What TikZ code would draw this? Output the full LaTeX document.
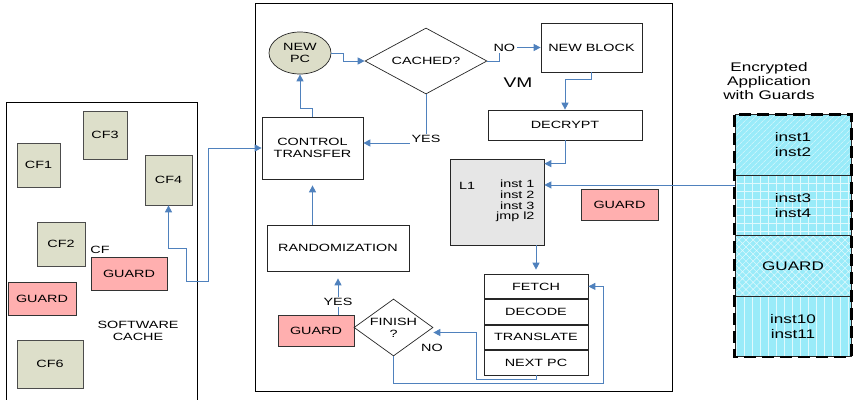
\documentclass[tikz,border=0pt]{standalone}
\usepackage{fontspec}
\setmainfont[FakeStretch=1.37]{Liberation Sans}
\usetikzlibrary{positioning,shapes.geometric,arrows.meta,patterns.meta}

\definecolor{flowblue}{RGB}{79,129,189}
\definecolor{cfgreen}{RGB}{221,223,202}
\definecolor{pcgreen}{RGB}{220,221,200}
\definecolor{guardpink}{RGB}{255,175,175}
\definecolor{l1gray}{RGB}{230,230,230}
\definecolor{appcyan}{RGB}{153,235,249}

\begin{document}
\begin{tikzpicture}[x=1pt, y=-1pt, font=\fontsize{10.5}{12}\selectfont,
    >={Triangle[length=7pt,width=7pt]},
    flow/.style={draw=flowblue, line width=0.9pt, ->},
    stepbox/.style={draw=black!85, fill=white, line width=0.7pt, align=center, inner sep=0pt},
    stagebox/.style={stepbox, minimum width=104pt, minimum height=24.75pt},
    cfbox/.style={draw=black!70, fill=cfgreen, line width=0.7pt, inner sep=0pt},
    guardbox/.style={draw=black!80, fill=guardpink, line width=0.7pt, inner sep=0pt},
    ask/.style={diamond, draw=black!85, fill=white, line width=0.7pt, inner sep=0pt, align=center},
    lbl/.style={fill=white, inner sep=1.5pt},
    appbox/.style={draw=black!85, line width=0.7pt, preaction={fill=appcyan}, pattern color=white!70!appcyan,
        minimum width=116pt, minimum height=60.5pt, align=center, font=\fontsize{12.5}{15}\selectfont}]

    \useasboundingbox (0,0) rectangle (853,399);

    % Software cache
    \draw[line width=0.8pt] (6,402) -- (6,102) -- (197,102) -- (197,402);
    \node[cfbox, minimum width=44pt, minimum height=48pt] (cf3) at (105,135) {CF3};
    \node[cfbox, minimum width=43pt, minimum height=44pt] (cf1) at (38.5,165) {CF1};
    \node[cfbox, minimum width=47pt, minimum height=50pt] (cf4) at (168.5,180) {CF4};
    \node[cfbox, minimum width=48pt, minimum height=44pt] (cf2) at (61,244) {CF2};
    \node (cflbl) at (100,250) {CF};
    \node[guardbox, minimum width=76pt, minimum height=33pt] (gcf) at (129,273.5) {GUARD};
    \node[guardbox, minimum width=68pt, minimum height=33pt] (gcache) at (42,298.5) {GUARD};
    \node[align=center] (cache) at (138,331) {SOFTWARE\\CACHE};
    \node[cfbox, minimum width=66pt, minimum height=48pt] (cf6) at (50,364) {CF6};

    % VM
    \draw[line width=0.8pt] (255,3) rectangle (672,391);
    \node[ellipse, draw=black!85, fill=pcgreen, line width=0.7pt, inner sep=0pt, minimum width=62pt,
        minimum height=42pt, align=center] (newpc) at (300,53) {NEW\\PC};
    \node[ask, minimum width=122pt, minimum height=66pt, shape aspect=1.85] (cached) at (426,61) {CACHED?};
    \node[stepbox, minimum width=101pt, minimum height=49pt] (newblock) at (591.5,47.5) {NEW BLOCK};
    \node[font=\fontsize{14}{16}\selectfont] (vm) at (518,83) {VM};
    \node[stepbox, minimum width=154pt, minimum height=30pt] (decrypt) at (565,125) {DECRYPT};
    \node[stepbox, fill=l1gray, minimum width=94pt, minimum height=86pt] (l1) at (497,202) {};
    \node (l1name) at (467,186) {L1};
    \node[align=right, anchor=east, font=\fontsize{10.5}{10.7}\selectfont] (l1code) at (538,201) {inst 1\\inst 2\\inst 3\\jmp l2};
    \node[guardbox, minimum width=77pt, minimum height=31pt] (gvm) at (619.5,204.5) {GUARD};
    \node[stepbox, minimum width=101pt, minimum height=62pt] (ct) at (312.5,148) {CONTROL\\TRANSFER};
    \node[stepbox, minimum width=142pt, minimum height=46pt] (rand) at (338,248) {RANDOMIZATION};
    \node[guardbox, minimum width=76pt, minimum height=31pt] (gfin) at (316,330.5) {GUARD};
    \node[ask, minimum width=79pt, minimum height=57pt, shape aspect=1.39] (finish) at (393.5,327.5) {FINISH\\?};
    \node (no2) at (432,348) {NO};

    \node[stagebox] (fetch) at (536,286.4) {FETCH};
    \node[stagebox, below=0pt of fetch] (decode) {DECODE};
    \node[stagebox, below=0pt of decode] (translate) {TRANSLATE};
    \node[stagebox, below=0pt of translate] (nextpc) {NEXT PC};

    % Encrypted application
    \node[align=center, font=\fontsize{12.5}{14}\selectfont] (apptitle) at (769,81) {Encrypted\\Application\\with Guards};
    \node[appbox, pattern={Lines[angle=45,distance=4pt,line width=0.5pt]}] (app1) at (793,145) {inst1\\inst2};
    \node[appbox, pattern={Hatch[angle=0,distance=8pt,line width=0.6pt]}] (app2) at (793,205.5) {inst3\\inst4};
    \node[appbox, pattern={Hatch[angle=45,distance=5pt,line width=0.5pt]}] (app3) at (793,266) {GUARD};
    \node[appbox, pattern={Lines[angle=90,distance=8pt,line width=0.7pt]}] (app4) at (793,326.5) {inst10\\inst11};
    \draw[line width=2.6pt, dash pattern=on 12pt off 6pt] (app1.north west) rectangle (app4.south east);

    % Connectors
    \draw[flow] (newpc.east) -- ++(12,0) |- (cached.west);
    \draw[flow] (cached.east) -- ++(12,0) |- node[lbl, pos=0.5, xshift=5pt] {NO} (newblock.west);
    \draw[flow] (newblock.south) -- ++(0,7) -| (decrypt.north);
    \draw[flow] (decrypt.south) |- ([yshift=-5pt]l1.north east);
    \coordinate (appin) at ([yshift=-10pt]app2.north west);
    \draw[flow] (appin) -- (appin -| l1.east);
    \draw[flow] (ct.north) -- ++(0,-8) -| (newpc.south);
    \draw[flow] (cached.south) |- node[lbl, pos=0.5, yshift=4pt] {YES} ([yshift=5pt]ct.east);
    \draw[flow] (rand.north -| ct.south) -- ([yshift=-6pt]ct.south);
    \draw[flow] (gfin.north -| rand.south) -- node[lbl, pos=0.35] {YES} ([yshift=-7pt]rand.south);
    \draw[flow] (l1.south -| fetch.north) -- ([yshift=4pt]fetch.north);
    \draw[flow] (nextpc.south) -- ++(0,4) -- ++(-60,0) |- ([yshift=-5pt]finish.east);
    \draw[flow] (finish.south) -- ++(0,27) -| ([xshift=15pt]fetch.east) -- (fetch.east);
    \draw[flow, <->] (cf4.south) -- ++(0,43) -- ++(18,0) -- ++(0,33) -- ++(21.5,0) |- (ct.west);
\end{tikzpicture}
\end{document}
